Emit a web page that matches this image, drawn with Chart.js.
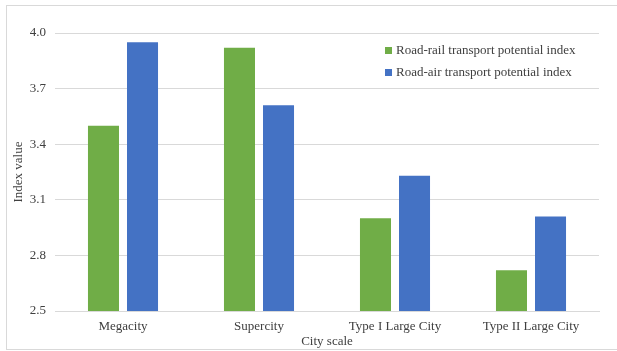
<!DOCTYPE html>
<html>
<head>
<meta charset="utf-8">
<script src="https://cdn.jsdelivr.net/npm/chart.js@4/dist/chart.umd.min.js"></script>
<style>
  html, body { margin: 0; padding: 0; background: #fff; }
  #wrap { width: 617px; height: 351px; }
</style>
</head>
<body>
<div id="wrap"><canvas id="cityChart" width="617" height="351"></canvas></div>
<script>
// data
const cities = ['Megacity', 'Supercity', 'Type I Large City', 'Type II Large City'];
const roadRail = [3.50, 3.92, 3.00, 2.72];
const roadAir = [3.95, 3.61, 3.23, 3.01];
const yTicks = [2.5, 2.8, 3.1, 3.4, 3.7, 4.0];

const green = '#70AD47';
const blue = '#4472C4';
const textColor = '#404040';
const serif = '"Liberation Serif", "Times New Roman", serif';

// outer frame + legend inside the plot
const framePlugin = {
    id: 'frame',
    afterDraw(chart) {
        const ctx = chart.ctx;
        ctx.save();
        ctx.strokeStyle = '#d9d9d9';
        ctx.lineWidth = 1;
        ctx.strokeRect(6.5, 5.5, 640, 344);

        // legend
        const x = chart.chartArea.left + 330;
        let y = 51;
        ctx.font = '13px ' + serif;
        ctx.textBaseline = 'middle';
        chart.data.datasets.forEach(ds => {
            ctx.fillStyle = ds.backgroundColor;
            ctx.fillRect(x, y - 4, 7, 7);
            ctx.fillStyle = textColor;
            ctx.fillText(ds.label, x + 11, y);
            y += 22;
        });
        ctx.restore();
    }
};

new Chart(document.getElementById('cityChart'), {
    type: 'bar',
    data: {
        labels: cities,
        datasets: [
            { label: 'Road-rail transport potential index', data: roadRail, backgroundColor: green },
            { label: 'Road-air transport potential index', data: roadAir, backgroundColor: blue }
        ]
    },
    options: {
        responsive: false,
        animation: false,
        categoryPercentage: 0.574,
        barPercentage: 0.795,
        layout: { padding: { top: 33, right: 18, bottom: 0, left: 0 } },
        plugins: {
            legend: { display: false },
            tooltip: { enabled: false }
        },
        scales: {
            x: {
                grid: { display: false, drawTicks: false },
                border: { color: '#d9d9d9' },
                ticks: { color: textColor, font: { family: serif, size: 13 }, padding: 8, maxRotation: 0 },
                title: {
                    display: true, text: 'City scale', color: textColor,
                    font: { family: serif, size: 13 }, padding: { top: 0, bottom: 2 }
                },
                afterFit(scale) { scale.height = 40; }
            },
            y: {
                min: 2.5,
                max: 4.0,
                grid: { color: '#d9d9d9', drawTicks: false },
                border: { display: false },
                afterBuildTicks(scale) { scale.ticks = yTicks.map(v => ({ value: v })); },
                ticks: {
                    color: textColor, font: { family: serif, size: 13 }, padding: 9,
                    callback: v => v.toFixed(1)
                },
                title: {
                    display: true, text: 'Index value', color: textColor,
                    font: { family: serif, size: 13 }, padding: { top: 11, bottom: 0 }
                },
                afterFit(scale) { scale.width = 55; }
            }
        }
    },
    plugins: [framePlugin]
});
</script>
</body>
</html>
